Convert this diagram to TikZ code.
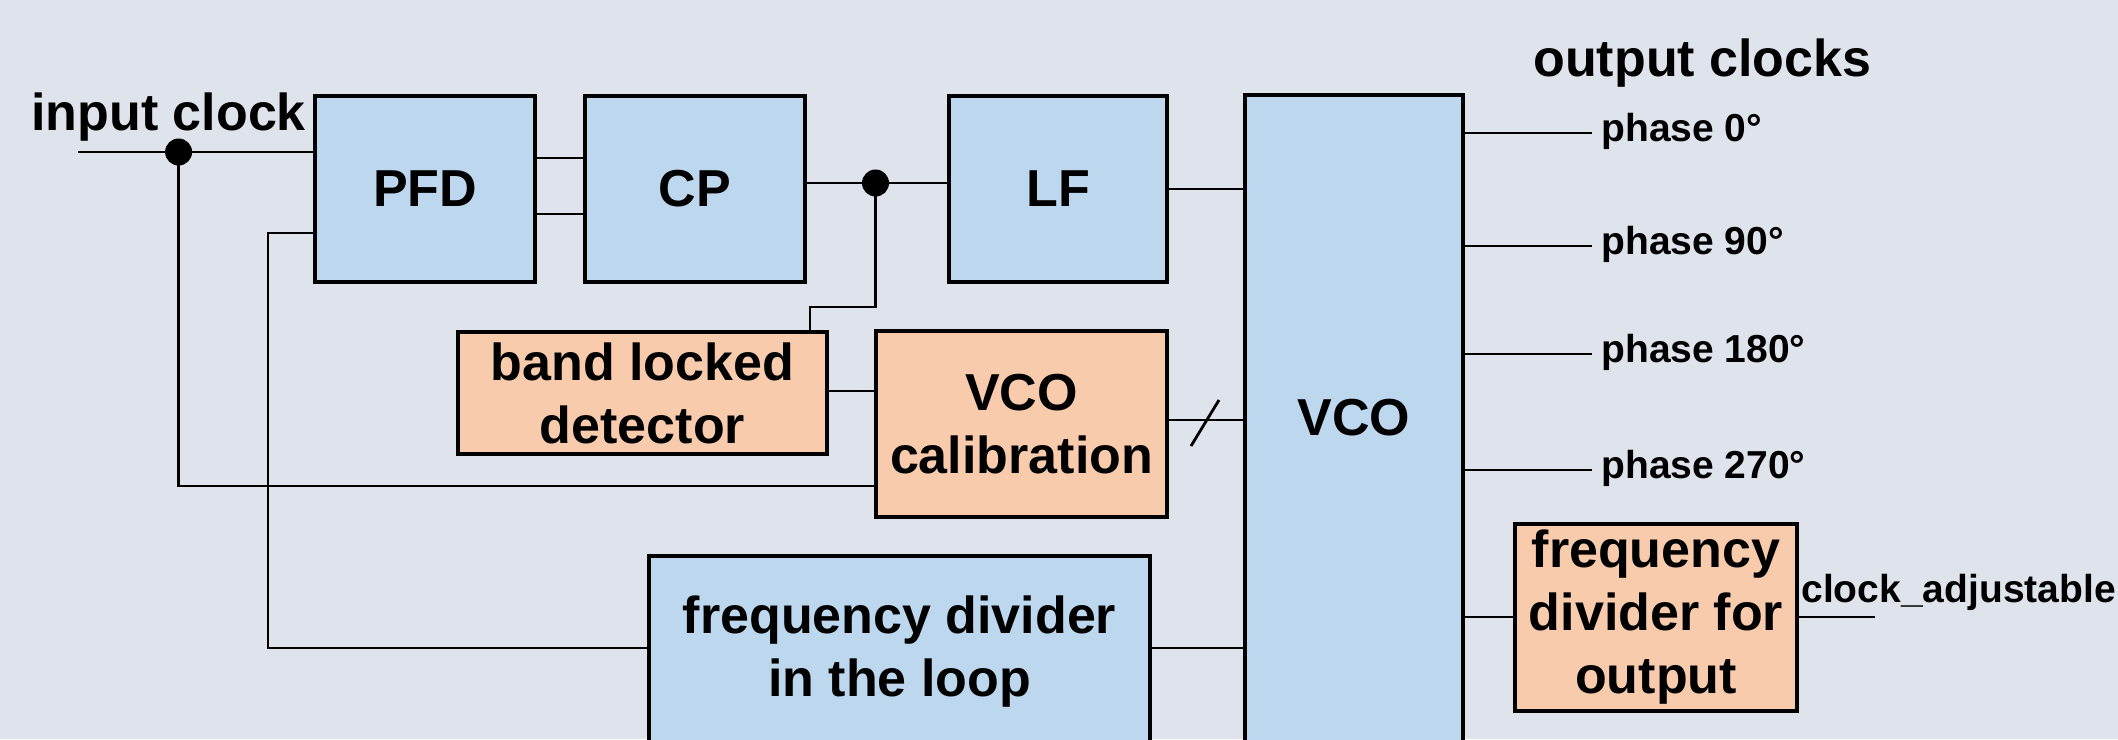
\documentclass[tikz,border=0pt]{standalone}
\usepackage{fontspec}
\setmainfont{Liberation Sans}
\definecolor{bgcol}{HTML}{DFE3EC}
\definecolor{boxblue}{HTML}{BDD7EE}
\definecolor{boxorange}{HTML}{F8CBAD}
\newcommand\bigfnt{\fontsize{26}{31.5}\selectfont\bfseries}
\newcommand\smallfnt{\fontsize{19.5}{23}\selectfont\bfseries}
\begin{document}
\begin{tikzpicture}[x=0.5pt,y=-0.5pt,
  box/.style={draw=black, line width=1.8pt, inner sep=0pt, align=center, font=\bigfnt},
  bluebox/.style={box, fill=boxblue},
  orbox/.style={box, fill=boxorange},
  wire/.style={line width=1.4pt, draw=black},
  jdot/.style={circle, fill=black, inner sep=0pt, minimum size=13.5pt},
  smalltxt/.style={font=\smallfnt, inner ysep=0pt, inner xsep=4.5pt, anchor=base west},
  bigtxt/.style={font=\bigfnt, inner sep=0pt, align=center}]
\useasboundingbox (0,0) rectangle (2118,739);
\fill[bgcol] (0,0) rectangle (2118,739);
\clip (0,0) rectangle (2118,739);

% boxes
\node[bluebox, minimum width=110pt, minimum height=93pt] (pfd) at (425,189) {PFD};
\node[bluebox, minimum width=110pt, minimum height=93pt] (cp) at (695,189) {CP};
\node[bluebox, minimum width=109pt, minimum height=93pt] (lf) at (1058,189) {LF};
\node[bluebox, minimum width=109pt, minimum height=352.5pt] (vco) at (1354,447.5) {};
\node[bigtxt, anchor=base] (vcotxt) at (1354,435) {VCO};
\node[orbox, minimum width=184.5pt, minimum height=61pt] (band) at (642.5,393) {band locked\\detector};
\node[orbox, minimum width=145.5pt, minimum height=93pt] (vcocal) at (1021.5,424) {VCO\\calibration};
\node[bluebox, minimum width=250.5pt, minimum height=122pt] (loop) at (899.5,678) {};
\node[bigtxt] (looptxt) at (899.5,651.5) {frequency divider\\in the loop};
\node[orbox, minimum width=141pt, minimum height=93.5pt] (outdiv) at (1656,617.5) {frequency\\divider for\\output};

% labels
\node[bigtxt, anchor=base west] (inlbl) at (31,130) {input clock};
\node[bigtxt, anchor=base west] (outlbl) at (1533,76) {output clocks};

% input and junctions
\coordinate (in0) at (78,152);
\node[jdot] (d1) at (178.6,152) {};
\draw[wire] (in0) -- (pfd.west |- in0);
\draw[wire] (d1.center) |- (vcocal.west |- 0,486);
\draw[wire] (pfd.east |- 0,158) -- (cp.west |- 0,158);
\draw[wire] (pfd.east |- 0,214) -- (cp.west |- 0,214);
\node[jdot] (d2) at (875.5,183) {};
\draw[wire] (cp.east |- d2) -- (lf.west |- d2);
\coordinate (k) at (810,307);
\draw[wire] (d2.center) |- (k) -- (k |- band.north);
\draw[wire] (band.east |- 0,391) -- (vcocal.west |- 0,391);
\draw[wire] (lf.east) -- (lf.east -| vco.west);
\draw[wire] (vcocal.east |- 0,420) -- (vco.west |- 0,420);
\draw[wire] (1191,446) -- (1219,400);
\coordinate (fb) at (268,648);
\draw[wire] (pfd.west |- 0,233) -| (fb) -- (loop.west |- fb);
\draw[wire] (loop.east |- fb) -- (vco.west |- fb);

% outputs
\foreach \yy/\nm/\tx in {133/p0/phase 0°, 246/p90/phase 90°, 354/p180/phase 180°, 470/p270/phase 270°}{
  \node[smalltxt] (\nm) at (1592,\yy+8) {\tx};
  \draw[wire] (vco.east |- 0,\yy) -- (1592,\yy);
}
\draw[wire] (vco.east |- 0,617) -- (outdiv.west |- 0,617);
\coordinate (clkend) at (1875,617);
\draw[wire] (outdiv.east |- clkend) -- (clkend);
\node[smalltxt, inner xsep=0pt] (clklbl) at (1801,602) {clock\_adjustable};
\end{tikzpicture}
\end{document}
